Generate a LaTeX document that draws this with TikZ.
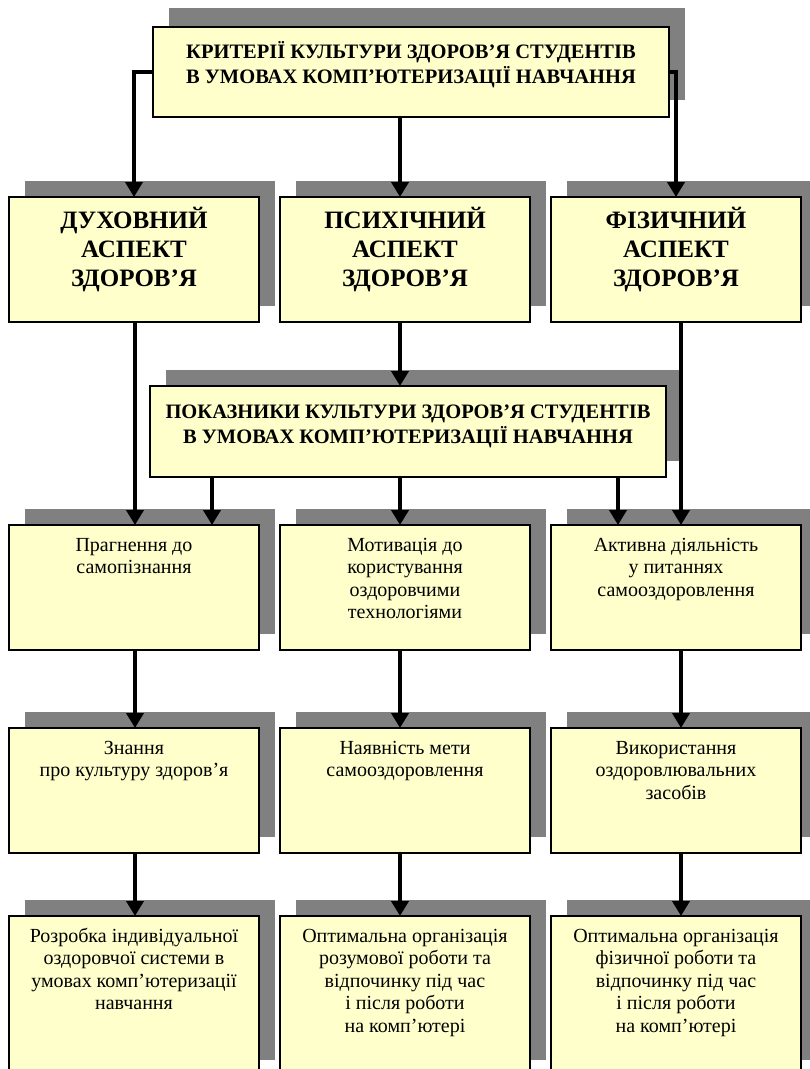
\documentclass[tikz,border=0pt]{standalone}
\usepackage{fontspec}
\setmainfont{Liberation Serif}
\usetikzlibrary{arrows.meta}

\definecolor{boxfill}{HTML}{FFFFCC}
\definecolor{shadowgray}{HTML}{808080}

% text styles of the three kinds of boxes
\newcommand\headfont{\fontsize{20.5}{25.5}\bfseries\selectfont}
\newcommand\aspectfont{\fontsize{25}{29}\bfseries\selectfont}
\newcommand\bodyfont{\fontsize{20}{22.6}\selectfont}

\tikzset{
  panel/.style={draw=black, line width=1.5pt, fill=boxfill,
                inner sep=0pt, outer sep=0pt, anchor=north west},
  conn/.style={line width=4.5pt, -{Triangle[length=15pt,width=17pt]}},
  drop/.style={fill=shadowgray},
}

% #1 name, #2 x, #3 y (top left), #4 width, #5 height,
% #6 distance from top to first baseline, #7 font, #8 text
\newcommand\shadedpanel[8]{%
  \fill[drop] (#2+16,#3-16) rectangle (#2+#4+16,#3+#5-16);
  \node[panel, minimum width=#4pt, minimum height=#5pt] (#1) at (#2,#3)
    {\parbox[c][#5pt][t]{#4pt}{\centering#7\rule{0pt}{#6pt}#8\par}};
}

\begin{document}
\begin{tikzpicture}[x=1pt,y=-1pt]
\useasboundingbox (0,0) rectangle (810,1069);
\clip (0,0) rectangle (810,1069);

% columns of the vertical connectors
\coordinate (colL) at (135,0);
\coordinate (colI1) at (212,0);
\coordinate (colM) at (400,0);
\coordinate (colI3) at (618,0);
\coordinate (colR) at (681,0);

% criteria
\fill[drop] (169,8) rectangle (685,100);
\node[panel, minimum width=516pt, minimum height=90pt] (top) at (153,27)
  {\parbox[c][90pt][t]{516pt}{\centering\headfont\rule{0pt}{31pt}%
   КРИТЕРІЇ КУЛЬТУРИ ЗДОРОВ’Я СТУДЕНТІВ\\В УМОВАХ КОМП’ЮТЕРИЗАЦІЇ НАВЧАННЯ\par}};

% aspects of health
\shadedpanel{a1}{9}{197}{250}{125}{31}{\aspectfont}{ДУХОВНИЙ\\АСПЕКТ\\ЗДОРОВ’Я}
\shadedpanel{a2}{280}{197}{250}{125}{31}{\aspectfont}{ПСИХІЧНИЙ\\АСПЕКТ\\ЗДОРОВ’Я}
\shadedpanel{a3}{551}{197}{250}{125}{31}{\aspectfont}{ФІЗИЧНИЙ\\АСПЕКТ\\ЗДОРОВ’Я}

% indicators
\shadedpanel{ind}{150}{386}{516}{91}{32}{\headfont}
  {ПОКАЗНИКИ КУЛЬТУРИ ЗДОРОВ’Я СТУДЕНТІВ\\В УМОВАХ КОМП’ЮТЕРИЗАЦІЇ НАВЧАННЯ}

% first row
\shadedpanel{r1a}{9}{525}{250}{125}{26}{\bodyfont}{Прагнення до\\самопізнання}
\shadedpanel{r1b}{280}{525}{250}{125}{26}{\bodyfont}
  {Мотивація до\\користування\\оздоровчими\\технологіями}
\shadedpanel{r1c}{551}{525}{250}{125}{26}{\bodyfont}
  {Активна діяльність\\у питаннях\\самооздоровлення}

% second row
\shadedpanel{r2a}{9}{728}{250}{125}{26}{\bodyfont}{Знання\\про культуру здоров’я}
\shadedpanel{r2b}{280}{728}{250}{125}{26}{\bodyfont}{Наявність мети\\самооздоровлення}
\shadedpanel{r2c}{551}{728}{250}{125}{26}{\bodyfont}
  {Використання\\оздоровлювальних\\засобів}

% third row
\shadedpanel{r3a}{9}{916}{250}{160}{26}{\bodyfont}
  {Розробка індивідуальної\\оздоровчої системи в\\умовах комп’ютеризації\\навчання}
\shadedpanel{r3b}{280}{916}{250}{160}{26}{\bodyfont}
  {Оптимальна організація\\розумової роботи та\\відпочинку під час\\і після роботи\\на комп’ютері}
\shadedpanel{r3c}{551}{916}{250}{160}{26}{\bodyfont}
  {Оптимальна організація\\фізичної роботи та\\відпочинку під час\\і після роботи\\на комп’ютері}

% connectors
\draw[conn] (top.west) -| (a1.north);
\draw[conn] (top.east) -| (a3.north);
\draw[conn] (top.south -| colM) -- (a2.north -| colM);

\draw[conn] (a1.south -| colL) -- (r1a.north -| colL);
\draw[conn] (a2.south -| colM) -- (ind.north -| colM);
\draw[conn] (a3.south -| colR) -- (r1c.north -| colR);

\draw[conn] (ind.south -| colI1) -- (r1a.north -| colI1);
\draw[conn] (ind.south -| colM) -- (r1b.north -| colM);
\draw[conn] (ind.south -| colI3) -- (r1c.north -| colI3);

\draw[conn] (r1a.south -| colL) -- (r2a.north -| colL);
\draw[conn] (r1b.south -| colM) -- (r2b.north -| colM);
\draw[conn] (r1c.south -| colR) -- (r2c.north -| colR);

\draw[conn] (r2a.south -| colL) -- (r3a.north -| colL);
\draw[conn] (r2b.south -| colM) -- (r3b.north -| colM);
\draw[conn] (r2c.south -| colR) -- (r3c.north -| colR);
\end{tikzpicture}
\end{document}
